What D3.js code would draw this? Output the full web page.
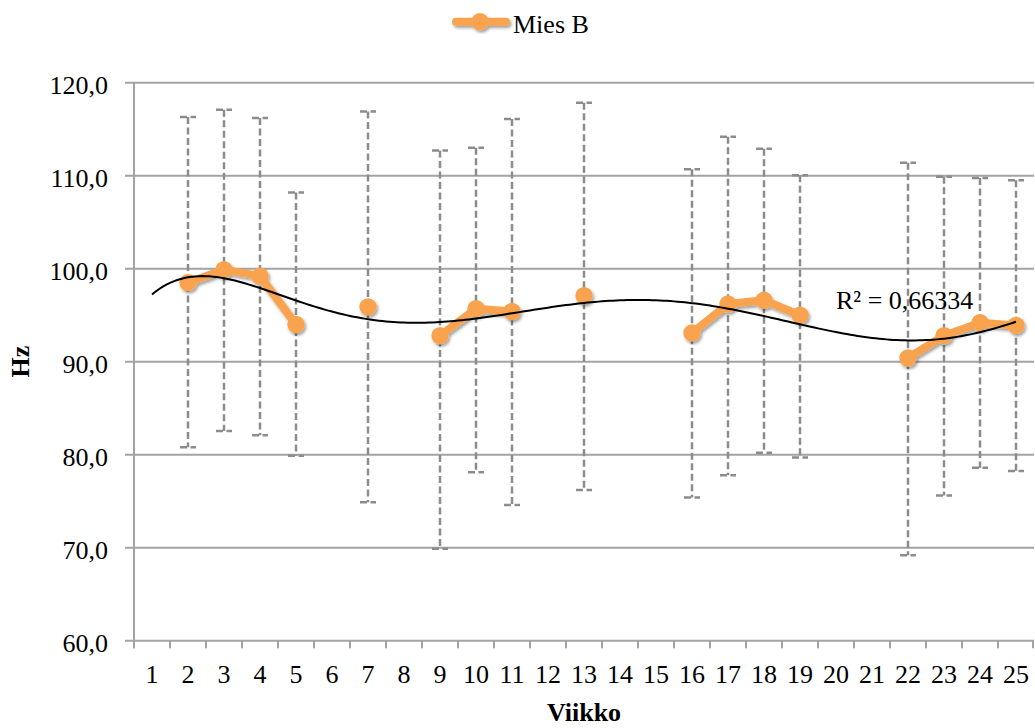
<!DOCTYPE html>
<html>
<head>
<meta charset="utf-8">
<script src="https://cdn.jsdelivr.net/npm/d3@7"></script>
<style>
  html, body { margin: 0; padding: 0; background: #ffffff; }
  svg { display: block; }
  text { font-family: "Liberation Serif", "Times New Roman", serif; fill: #000; }
</style>
</head>
<body>
<svg id="chart" width="1035" height="728"></svg>
<script>
// Week labels along the category axis
const weeks = ["1","2","3","4","5","6","7","8","9","10","11","12","13","14","15","16","17","18","19","20","21","22","23","24","25"];
// Mean fundamental frequency per week (null = no recording that week)
const meanHz = [null, 98.5, 99.9, 99.2, 94.0, null, 95.9, null, 92.8, 95.7, 95.4, null, 97.1, null, null, 93.1, 96.2, 96.6, 95.0, null, null, 90.4, 92.8, 94.2, 93.9];
// Error bar extents above and below the mean (Hz)
const errUp   = [null, 17.8, 17.2, 17.0, 14.2, null, 21.0, null, 19.9, 17.3, 20.7, null, 20.75, null, null, 17.6, 18.0, 16.3, 15.05, null, null, 21.0, 17.1, 15.55, 15.6];
const errDown = [null, 17.7, 17.35, 17.1, 14.1, null, 21.0, null, 22.9, 17.6, 20.8, null, 20.9, null, null, 17.7, 18.4, 16.4, 15.3, null, null, 21.2, 17.2, 15.6, 15.65];
// Value axis ticks
const yTicks = [60, 70, 80, 90, 100, 110, 120];
const seriesName = "Mies B";
const r2Label = "R² = 0,66334";
const trendOrder = 6;

const svg = d3.select("#chart");
const margin = { left: 134, right: 1, top: 82.7, bottom: 87.3 };
const W = 1035, H = 728;
const plotL = margin.left, plotR = W - margin.right, plotT = margin.top, plotB = H - margin.bottom;

const fmt = d3.formatLocale({ decimal: ",", thousands: " ", grouping: [3], currency: ["", "€"] }).format(".1f");

const x = d3.scaleBand().domain(weeks).range([plotL, plotR]).padding(0);
const y = d3.scaleLinear().domain([60, 120]).range([plotB, plotT]);
const cx = w => x(String(w)) + x.bandwidth() / 2;
const xCont = d3.scaleLinear().domain([1, 25]).range([cx(1), cx(25)]);

const gridColor = "#a3a3a3";
const orange = "#f9a34f";

const defs = svg.append("defs");
const f = defs.append("filter").attr("id", "shadow").attr("x", "-20%").attr("y", "-20%").attr("width", "140%").attr("height", "140%");
f.append("feDropShadow").attr("dx", 1.5).attr("dy", 2.2).attr("stdDeviation", 1.8)
  .attr("flood-color", "#000").attr("flood-opacity", 0.38);

// Horizontal gridlines with outward tick stubs
svg.append("g").selectAll("line").data(yTicks).join("line")
  .attr("x1", plotL - 9).attr("x2", plotR)
  .attr("y1", d => y(d)).attr("y2", d => y(d))
  .attr("stroke", gridColor).attr("stroke-width", 2);

// Value axis line
svg.append("line").attr("x1", plotL).attr("x2", plotL).attr("y1", plotT).attr("y2", plotB + 7.5)
  .attr("stroke", gridColor).attr("stroke-width", 2);

// Value axis labels
svg.append("g").selectAll("text").data(yTicks).join("text")
  .attr("x", 108).attr("y", d => y(d) + 11.5)
  .attr("text-anchor", "end").attr("font-size", 26)
  .text(d => fmt(d));

// Category axis: tick marks sit on the band boundaries
const xAxis = d3.axisBottom(x).tickSize(0).tickPadding(0);
const gx = svg.append("g").attr("transform", `translate(0,${plotB})`).call(xAxis);
gx.select(".domain").remove();
gx.selectAll("text").attr("font-size", 26).attr("font-family", "Liberation Serif, serif")
  .attr("dy", 0).attr("y", 42.5).attr("fill", "#000");
const edges = weeks.map(w => x(w)).concat([plotR - 1]);
svg.append("g").selectAll("line").data(edges).join("line")
  .attr("x1", d => d).attr("x2", d => d).attr("y1", plotB).attr("y2", plotB + 7.5)
  .attr("stroke", gridColor).attr("stroke-width", 2);

// Axis titles
svg.append("text").attr("x", (plotL + plotR) / 2).attr("y", 721)
  .attr("text-anchor", "middle").attr("font-size", 26).attr("font-weight", "bold").text("Viikko");
svg.append("text").attr("transform", `translate(29,${(plotT + plotB) / 2}) rotate(-90)`)
  .attr("text-anchor", "middle").attr("font-size", 26).attr("font-weight", "bold").text("Hz");

const pts = weeks.map((w, i) => ({ w: +w, v: meanHz[i], up: errUp[i], dn: errDown[i] }));
const valid = pts.filter(d => d.v != null);

// Error bars
const eb = svg.append("g").attr("stroke", "#8c8c8c").attr("stroke-width", 2.5)
  .attr("stroke-dasharray", "7,3.5").attr("fill", "none");
valid.forEach(d => {
  const X = cx(d.w), yt = y(d.v + d.up), yb = y(d.v - d.dn);
  eb.append("line").attr("x1", X).attr("x2", X).attr("y1", yt).attr("y2", yb);
  eb.append("line").attr("x1", X - 8).attr("x2", X + 8).attr("y1", yt).attr("y2", yt);
  eb.append("line").attr("x1", X - 8).attr("x2", X + 8).attr("y1", yb).attr("y2", yb);
});

// Series line with markers
const sg = svg.append("g").attr("filter", "url(#shadow)");
const line = d3.line().defined(d => d.v != null).x(d => cx(d.w)).y(d => y(d.v));
sg.append("path").datum(pts).attr("d", line)
  .attr("fill", "none").attr("stroke", orange).attr("stroke-width", 8)
  .attr("stroke-linejoin", "round").attr("stroke-linecap", "round");
sg.selectAll("circle").data(valid).join("circle")
  .attr("cx", d => cx(d.w)).attr("cy", d => y(d.v)).attr("r", 8.7).attr("fill", orange);

// Polynomial least-squares trendline
function polyFit(xs, ys, order) {
  const n = order + 1, t = xs.map(v => (v - 13) / 12);
  const A = Array.from({ length: n }, () => new Array(n + 1).fill(0));
  t.forEach((tv, k) => {
    for (let i = 0; i < n; i++) {
      for (let j = 0; j < n; j++) A[i][j] += Math.pow(tv, i + j);
      A[i][n] += ys[k] * Math.pow(tv, i);
    }
  });
  for (let c = 0; c < n; c++) {
    let p = c;
    for (let r = c + 1; r < n; r++) if (Math.abs(A[r][c]) > Math.abs(A[p][c])) p = r;
    [A[c], A[p]] = [A[p], A[c]];
    for (let r = 0; r < n; r++) {
      if (r === c) continue;
      const m = A[r][c] / A[c][c];
      for (let k = c; k <= n; k++) A[r][k] -= m * A[c][k];
    }
  }
  const coef = A.map((row, i) => row[n] / row[i]);
  return xv => { const tv = (xv - 13) / 12; return coef.reduce((s, c, i) => s + c * Math.pow(tv, i), 0); };
}
const trend = polyFit(valid.map(d => d.w), valid.map(d => d.v), trendOrder);
const trendPts = d3.range(1, 25.001, 0.1).map(w => ({ w, v: trend(w) }));
svg.append("path").datum(trendPts)
  .attr("d", d3.line().x(d => xCont(d.w)).y(d => y(d.v)))
  .attr("fill", "none").attr("stroke", "#000").attr("stroke-width", 2);

// R² label
svg.append("text").attr("x", 836).attr("y", 309).attr("font-size", 26).text(r2Label);

// Legend
const lg = svg.append("g").attr("filter", "url(#shadow)");
lg.append("line").attr("x1", 456).attr("x2", 506).attr("y1", 21.7).attr("y2", 21.7)
  .attr("stroke", orange).attr("stroke-width", 8).attr("stroke-linecap", "round");
lg.append("circle").attr("cx", 480).attr("cy", 21.7).attr("r", 8.7).attr("fill", orange);
svg.append("text").attr("x", 513).attr("y", 33.3).attr("font-size", 26).text(seriesName);
</script>
</body>
</html>
